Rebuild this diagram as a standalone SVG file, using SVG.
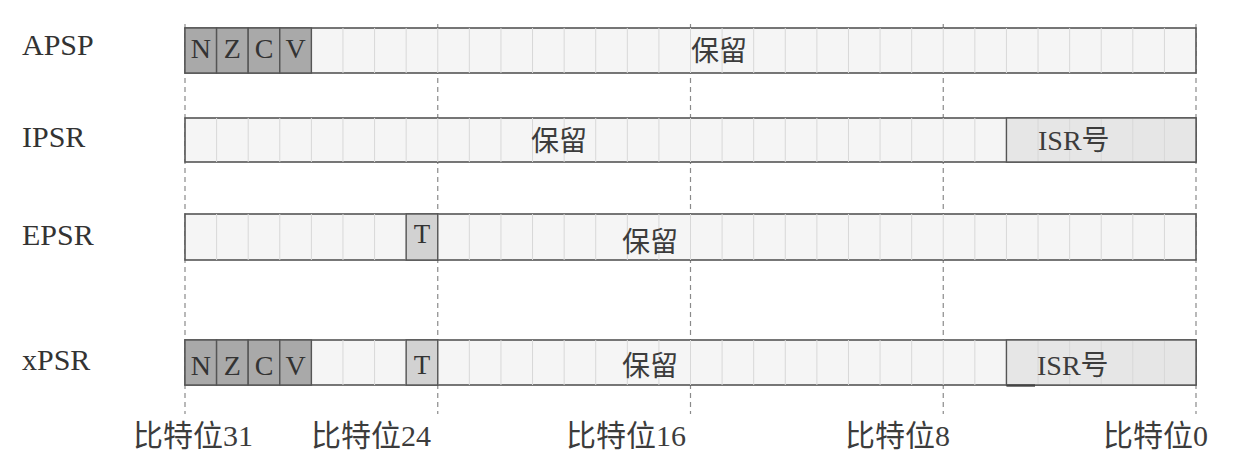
<svg xmlns="http://www.w3.org/2000/svg" width="1244" height="474" viewBox="0 0 1244 474">
<style>
.bg{fill:#ffffff}
.res{fill:#f5f5f5;stroke:#555;stroke-width:1.6}
.flag{fill:#a9a9a9;stroke:#555;stroke-width:1.4}
.tbit{fill:#d2d2d2;stroke:#555;stroke-width:1.4}
.isr{fill:#e6e6e6;stroke:#555;stroke-width:1.4}
.div{fill:none;stroke:#d8d8d8;stroke-width:1}
.guide{fill:none;stroke:#8a8a8a;stroke-width:1.2;stroke-dasharray:5 4}
.lbl{font-family:"Liberation Serif","Noto Sans CJK SC",serif;font-size:30px;fill:#333}
.bit{font-family:"Liberation Serif","Noto Sans CJK SC",serif;font-size:28px;fill:#333;text-anchor:middle}
.cjk{font-family:"Liberation Serif","Noto Sans CJK SC",sans-serif;font-size:28px;fill:#3c3c3c}
.pos{font-family:"Liberation Serif","Noto Sans CJK SC",sans-serif;font-size:30px;fill:#3c3c3c}
</style>
<defs>
<path id="cells" d="M216.59 0V1M248.19 0V1M279.78 0V1M311.38 0V1M342.97 0V1M374.56 0V1M406.16 0V1M437.75 0V1M469.34 0V1M500.94 0V1M532.53 0V1M564.13 0V1M595.72 0V1M627.31 0V1M658.91 0V1M690.5 0V1M722.09 0V1M753.69 0V1M785.28 0V1M816.88 0V1M848.47 0V1M880.06 0V1M911.66 0V1M943.25 0V1M974.84 0V1M1006.44 0V1M1038.03 0V1M1069.63 0V1M1101.22 0V1M1132.81 0V1M1164.41 0V1"/>
<path id="isrcells" d="M1038.03 0V1M1069.63 0V1M1101.22 0V1M1132.81 0V1M1164.41 0V1"/>
</defs>
<rect class="bg" x="0" y="0" width="1244" height="474"/>

<g id="connectors">
<path class="guide" d="M185 24V414M437.75 24V414M690.5 24V414M943.25 24V414M1196 24V414"/>
</g>

<g id="APSP">
<rect class="res" x="185" y="28" width="1011" height="45"/>
<use href="#cells" class="div" transform="translate(0,28) scale(1,45)"/>
<rect class="flag" x="185" y="28" width="31.59" height="45"/>
<rect class="flag" x="216.59" y="28" width="31.6" height="45"/>
<rect class="flag" x="248.19" y="28" width="31.59" height="45"/>
<rect class="flag" x="279.78" y="28" width="31.6" height="45"/>
<text class="lbl" x="22" y="55">APSP</text>
<text class="bit" x="200.8" y="58">N</text>
<text class="bit" x="232.4" y="58">Z</text>
<text class="bit" x="264" y="58">C</text>
<text class="bit" x="295.6" y="58">V</text>
<text class="cjk" x="691" y="61">保留</text>
</g>

<g id="IPSR">
<rect class="res" x="185" y="118" width="1011" height="44"/>
<use href="#cells" class="div" transform="translate(0,118) scale(1,44)"/>
<rect class="isr" x="1006.44" y="118" width="189.56" height="44"/>
<use href="#isrcells" class="div" transform="translate(0,119) scale(1,42)"/>
<text class="lbl" x="22" y="147">IPSR</text>
<text class="cjk" x="531" y="151">保留</text>
<text class="cjk" x="1038" y="150">ISR号</text>
</g>

<g id="EPSR">
<rect class="res" x="185" y="214" width="1011" height="46"/>
<use href="#cells" class="div" transform="translate(0,214) scale(1,46)"/>
<rect class="tbit" x="406.16" y="214" width="31.59" height="46"/>
<text class="lbl" x="22" y="245">EPSR</text>
<text class="bit" x="421.9" y="243" style="font-size:27px">T</text>
<text class="cjk" x="622" y="252">保留</text>
</g>

<g id="xPSR">
<rect class="res" x="185" y="340" width="1011" height="45"/>
<use href="#cells" class="div" transform="translate(0,340) scale(1,45)"/>
<rect class="flag" x="185" y="340" width="31.59" height="45"/>
<rect class="flag" x="216.59" y="340" width="31.6" height="45"/>
<rect class="flag" x="248.19" y="340" width="31.59" height="45"/>
<rect class="flag" x="279.78" y="340" width="31.6" height="45"/>
<rect class="tbit" x="406.16" y="340" width="31.59" height="45"/>
<rect class="isr" x="1006.44" y="340" width="189.56" height="45"/>
<use href="#isrcells" class="div" transform="translate(0,341) scale(1,43)"/>
<path d="M1006.44 385.5H1035" stroke="#444" stroke-width="2.4" fill="none"/>
<text class="lbl" x="22" y="370">xPSR</text>
<text class="bit" x="200.8" y="375">N</text>
<text class="bit" x="232.4" y="375">Z</text>
<text class="bit" x="264" y="375">C</text>
<text class="bit" x="295.6" y="375">V</text>
<text class="bit" x="421.9" y="374" style="font-size:27px">T</text>
<text class="cjk" x="622" y="376">保留</text>
<text class="cjk" x="1037" y="375">ISR号</text>
</g>

<g id="bit-labels">
<text class="pos" x="133" y="446">比特位31</text>
<text class="pos" x="311" y="446">比特位24</text>
<text class="pos" x="566" y="446">比特位16</text>
<text class="pos" x="845" y="446">比特位8</text>
<text class="pos" x="1103" y="446">比特位0</text>
</g>
</svg>
